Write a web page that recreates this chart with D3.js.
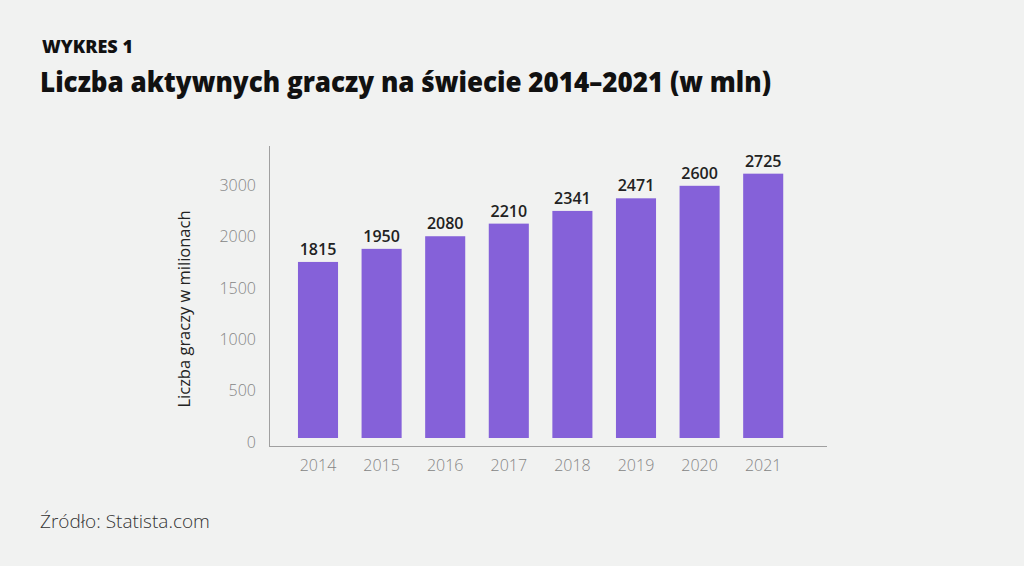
<!DOCTYPE html>
<html><head><meta charset="utf-8">
<script src="https://cdn.jsdelivr.net/npm/d3@7"></script>
<style>html,body{margin:0;padding:0;background:#f1f2f1;}svg{display:block;}</style>
</head><body>
<svg id="c" width="1024" height="566"></svg>
<script>
const years = ["2014","2015","2016","2017","2018","2019","2020","2021"];
const players = [1815,1950,2080,2210,2341,2471,2600,2725];
const tickLabels = ["0","500","1000","1500","2000","3000"];
const chartLabel = "WYKRES 1";
const title = "Liczba aktywnych graczy na świecie 2014–2021 (w mln)";
const yTitle = "Liczba graczy w milionach";
const source = "Źródło: Statista.com";

const svg = d3.select("#c");
svg.append("rect").attr("width",1024).attr("height",566).attr("fill","#f1f2f1");
const font = "'Open Sans', 'Noto Sans', sans-serif";

svg.append("text").attr("x",42).attr("y",53).text(chartLabel)
  .attr("font-family",font).attr("font-weight",800).attr("font-size",17).attr("fill","#111")
  .attr("textLength",91).attr("lengthAdjust","spacingAndGlyphs");
svg.append("text").attr("x",40).attr("y",92).text(title)
  .attr("font-family",font).attr("font-weight",800).attr("font-size",28.5).attr("fill","#111")
  .attr("textLength",731).attr("lengthAdjust","spacingAndGlyphs");

const x = d3.scaleBand().domain(years).range([286.2,795]).paddingInner(0.37).paddingOuter(0.185);
const y = d3.scaleLinear().domain([0,1000]).range([438,341]);
const yTick = d3.scalePoint().domain(tickLabels).range([441.5,185]);

// axes lines
svg.append("line").attr("x1",269.5).attr("x2",269.5).attr("y1",146).attr("y2",446.5).attr("stroke","#a0a0a0").attr("stroke-width",1);
svg.append("line").attr("x1",269).attr("x2",827).attr("y1",446.5).attr("y2",446.5).attr("stroke","#a0a0a0").attr("stroke-width",1);

svg.append("g").selectAll("rect").data(players).join("rect")
  .attr("x",(d,i)=>x(years[i])).attr("width",x.bandwidth())
  .attr("y",d=>y(d)).attr("height",d=>y(0)-y(d)).attr("fill","#8561d9");

svg.append("g").selectAll("text").data(players).join("text")
  .attr("x",(d,i)=>x(years[i])+x.bandwidth()/2).attr("y",d=>y(d)-7)
  .attr("text-anchor","middle").text(d=>d)
  .attr("font-family",font).attr("font-weight",600).attr("font-size",16).attr("fill","#222");

svg.append("g").selectAll("text").data(years).join("text")
  .attr("x",d=>x(d)+x.bandwidth()/2).attr("y",471)
  .attr("text-anchor","middle").text(d=>d)
  .attr("font-family",font).attr("font-weight",300).attr("font-size",16).attr("fill","#858585");

svg.append("g").selectAll("text").data(tickLabels).join("text")
  .attr("x",256).attr("y",d=>yTick(d)+6)
  .attr("text-anchor","end").text(d=>d)
  .attr("font-family",font).attr("font-weight",300).attr("font-size",16).attr("fill","#858585");

svg.append("text").attr("transform","translate(190,309) rotate(-90)")
  .attr("text-anchor","middle").text(yTitle)
  .attr("font-family",font).attr("font-weight",400).attr("font-size",16.5).attr("fill","#222");

svg.append("text").attr("x",40).attr("y",528).text(source)
  .attr("font-family",font).attr("font-weight",300).attr("font-size",19).attr("fill","#333");
</script>
</body></html>
